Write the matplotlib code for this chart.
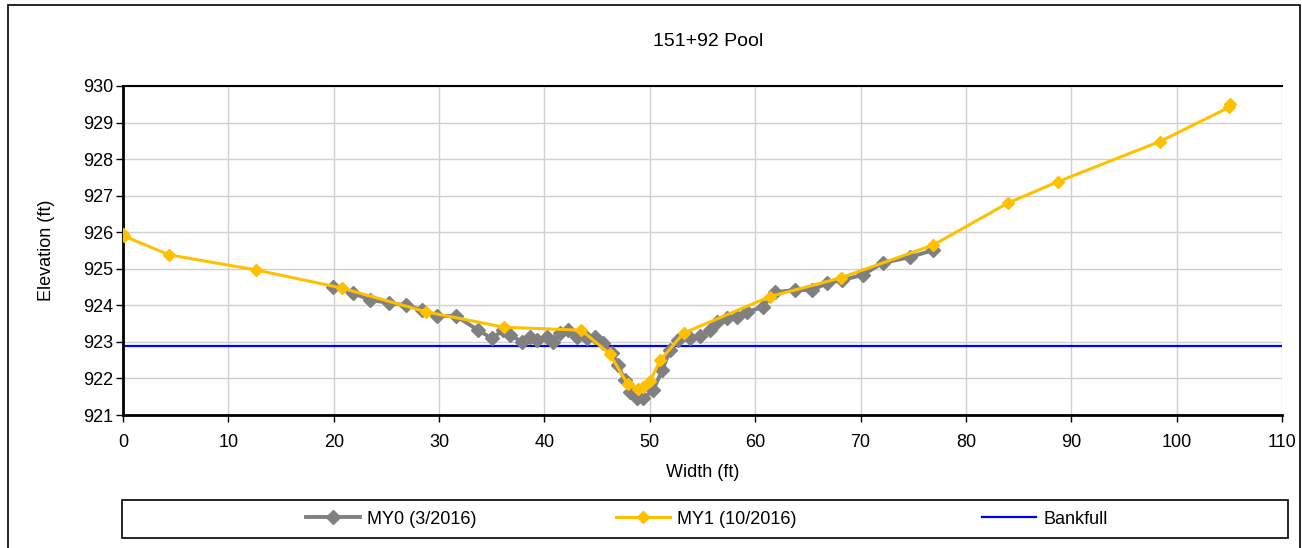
import matplotlib
matplotlib.use("Agg")
import matplotlib.pyplot as plt
from matplotlib.patches import Rectangle

title = "151+92 Pool"

my0_x = [19.9, 21.8, 23.4, 25.2, 26.9, 28.4, 29.8, 31.6, 33.7, 35.0, 36.1, 36.7,
         37.9, 38.6, 39.3, 40.2, 40.8, 41.5, 42.2, 43.1, 44.0, 44.8, 45.6, 46.4,
         47.0, 47.6, 48.1, 48.8, 49.4, 50.3, 51.2, 51.9, 52.7, 53.8, 54.8, 55.7,
         56.4, 57.3, 58.3, 59.2, 60.7, 61.9, 63.8, 65.4, 66.8, 68.2, 70.2, 72.1,
         74.7, 76.9]
my0_y = [924.50, 924.34, 924.15, 924.07, 924.00, 923.87, 923.71, 923.71, 923.32,
         923.10, 923.32, 923.19, 923.00, 923.13, 923.05, 923.13, 923.00, 923.24,
         923.32, 923.13, 923.10, 923.13, 922.97, 922.70, 922.37, 921.96, 921.63,
         921.47, 921.46, 921.68, 922.23, 922.78, 923.05, 923.10, 923.16, 923.32,
         923.54, 923.65, 923.68, 923.82, 923.95, 924.36, 924.42, 924.42, 924.60,
         924.69, 924.83, 925.16, 925.32, 925.51]

my1_x = [0.0, 0.05, 4.4, 12.6, 20.8, 28.8, 36.2, 43.5, 46.2, 47.9, 48.9, 49.4,
         50.0, 51.0, 53.2, 61.4, 68.1, 76.9, 84.0, 88.7, 98.4, 105.0, 105.1]
my1_y = [925.95, 925.90, 925.38, 924.97, 924.47, 923.82, 923.40, 923.32, 922.67,
         921.84, 921.72, 921.76, 921.92, 922.50, 923.24, 924.24, 924.75, 925.65,
         926.80, 927.38, 928.48, 929.42, 929.50]

bankfull_x = [0, 110]
bankfull_y = [922.89, 922.89]

labels = ["MY0 (3/2016)", "MY1 (10/2016)", "Bankfull"]

W, H = 1302, 548
font = "Liberation Sans"
plt.rcParams["font.family"] = font

fig = plt.figure(figsize=(W / 100, H / 100), dpi=100)
ax = fig.add_axes([123 / W, 1 - 415 / H, (1282 - 123) / W, (415 - 86) / H])

l0, = ax.plot(my0_x, my0_y, color="#808080", lw=2.8, marker="D", ms=7,
              mec="#808080", mfc="#808080", zorder=3)
l1, = ax.plot(my1_x, my1_y, color="#FFC000", lw=2.2, marker="D", ms=6.5,
              mec="#FFC000", mfc="#FFC000", zorder=4)
l2, = ax.plot(bankfull_x, bankfull_y, color="#0000FF", lw=1.6, zorder=2)

ax.set_xlim(0, 110)
ax.set_ylim(921, 930)
ax.set_xticks(range(0, 111, 10))
ax.set_yticks(range(921, 931, 1))
ax.grid(True, color="#D0D0D0", lw=1)
ax.set_axisbelow(True)
for s in ["left", "bottom"]:
    ax.spines[s].set_linewidth(2)
    ax.spines[s].set_color("black")
ax.spines["top"].set_linewidth(1.5)
ax.spines["right"].set_visible(False)
ax.tick_params(axis="y", labelsize=13, length=5, width=1, colors="black", pad=2)
ax.tick_params(axis="x", labelsize=13, length=5, width=1, colors="black", pad=9)

ax.set_xlabel("Width (ft)", fontsize=13, labelpad=9)
ax.set_ylabel("Elevation (ft)", fontsize=13, labelpad=20)
fig.text(0.5 * (123 + 1282) / W + 6 / W, 1 - 42 / H, title, ha="center",
         va="center", fontsize=14)

# legend frame
fig.patches.append(Rectangle((122 / W, 1 - 538 / H), (1288 - 122) / W, 38 / H,
                             transform=fig.transFigure, fill=False,
                             edgecolor="black", lw=1.2))
for handle, lab, x0 in zip([l0, l1, l2], labels, [306, 616, 982]):
    lg = fig.legend([handle], [lab], loc="center left",
                    bbox_to_anchor=(x0 / W, 1 - 519 / H), frameon=False,
                    prop={"size": 13}, handlelength=3.0, handletextpad=0.4,
                    borderaxespad=0, borderpad=0)

fig.patches.append(Rectangle((8 / W, -0.01), (1300 - 8) / W, 1 - 5 / H + 0.01,
                             transform=fig.transFigure, fill=False,
                             edgecolor="black", lw=1.2))

fig.savefig("out.png", dpi=100)
